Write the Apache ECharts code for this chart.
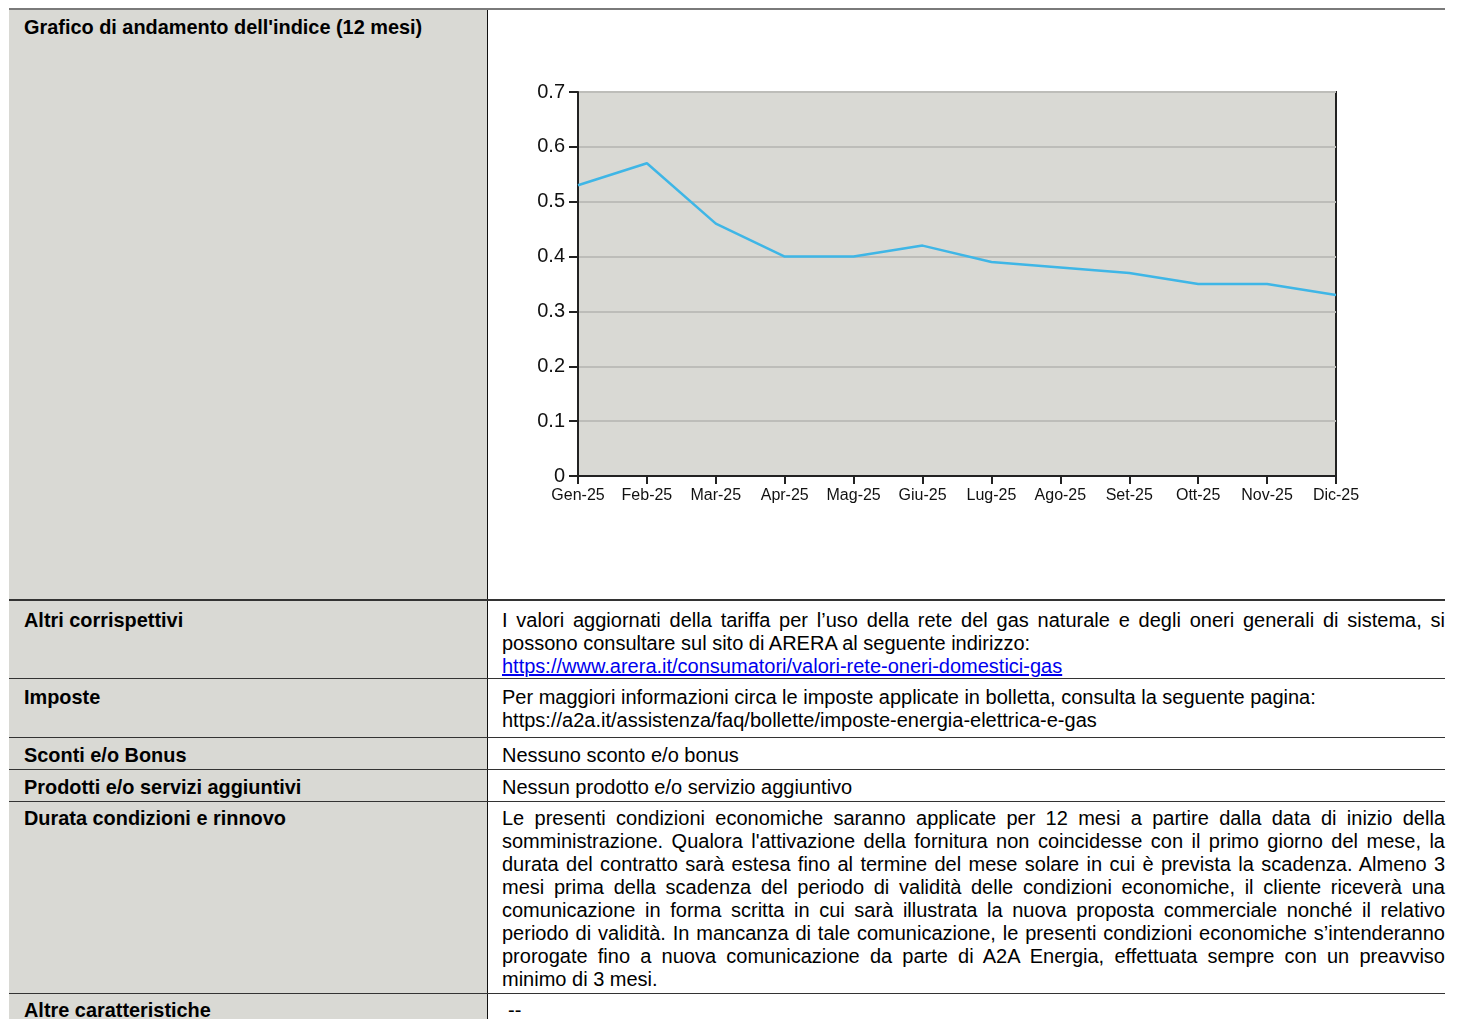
<!DOCTYPE html>
<html>
<head>
<meta charset="utf-8">
<script src="https://cdn.jsdelivr.net/npm/echarts@6/dist/echarts.min.js"></script>
<style>
html,body{margin:0;padding:0;background:#fff;}
body{width:1461px;height:1019px;position:relative;overflow:hidden;font-family:"Liberation Sans",Arial,sans-serif;color:#000;}
.hl{position:absolute;left:9px;width:1436px;background:#333;}
.lc{position:absolute;left:9px;width:478px;background:#d9d9d4;}
.vl{position:absolute;left:487px;width:1px;background:#111;}
.lab{position:absolute;left:24px;font-weight:bold;font-size:19.9px;line-height:23px;}
.txt{position:absolute;left:502px;width:943px;font-size:20px;line-height:23px;text-align:justify;}
.jl{display:block;text-align:justify;text-align-last:justify;}
a{color:#0000ee;text-decoration:underline;}
#chart{position:absolute;left:488px;top:10px;width:957px;height:589px;}
</style>
</head>
<body>
<div class="lc" style="top:10px;height:1009px;"></div>
<div class="vl" style="top:10px;height:1009px;"></div>
<div class="hl" style="top:8px;height:2px;background:#7a7a7a;"></div>
<div class="hl" style="top:599px;height:2px;"></div>
<div class="hl" style="top:678px;height:1px;"></div>
<div class="hl" style="top:737px;height:1px;"></div>
<div class="hl" style="top:769px;height:1px;"></div>
<div class="hl" style="top:801px;height:1px;"></div>
<div class="hl" style="top:993px;height:1px;"></div>

<div class="lab" style="top:16px;">Grafico di andamento dell'indice (12 mesi)</div>
<div id="chart"></div>

<div class="lab" style="top:609px;">Altri corrispettivi</div>
<div class="txt" style="top:609px;">I valori aggiornati della tariffa per l’uso della rete del gas naturale e degli oneri generali di sistema, si possono consultare sul sito di ARERA al seguente indirizzo:<br><a>https://www.arera.it/consumatori/valori-rete-oneri-domestici-gas</a></div>

<div class="lab" style="top:686px;">Imposte</div>
<div class="txt" style="top:686px;text-align:left;">Per maggiori informazioni circa le imposte applicate in bolletta, consulta la seguente pagina:<br>https://a2a.it/assistenza/faq/bollette/imposte-energia-elettrica-e-gas</div>

<div class="lab" style="top:744px;">Sconti e/o Bonus</div>
<div class="txt" style="top:744px;">Nessuno sconto e/o bonus</div>

<div class="lab" style="top:776px;">Prodotti e/o servizi aggiuntivi</div>
<div class="txt" style="top:776px;">Nessun prodotto e/o servizio aggiuntivo</div>

<div class="lab" style="top:807px;">Durata condizioni e rinnovo</div>
<div class="txt" style="top:807px;"><span class="jl">Le presenti condizioni economiche saranno applicate per 12 mesi a partire dalla data di inizio della somministrazione. Qualora l'attivazione della fornitura non coincidesse con il primo giorno del mese, la durata del contratto sarà estesa fino al termine del mese solare in cui è prevista la scadenza. Almeno 3 mesi prima della scadenza del periodo di validità delle condizioni economiche, il cliente riceverà una comunicazione in forma scritta in cui sarà illustrata la nuova proposta commerciale nonché il relativo periodo di validità. In mancanza di tale comunicazione, le presenti condizioni economiche s’intenderanno prorogate fino a nuova comunicazione da parte di A2A Energia, effettuata sempre con un preavviso</span>minimo di 3 mesi.</div>

<div class="lab" style="top:999px;">Altre caratteristiche</div>
<div class="txt" style="top:999px;left:508px;">--</div>

<script>
var months = ["Gen-25","Feb-25","Mar-25","Apr-25","Mag-25","Giu-25","Lug-25","Ago-25","Set-25","Ott-25","Nov-25","Dic-25"];
var indexValues = [0.53, 0.57, 0.46, 0.40, 0.40, 0.42, 0.39, 0.38, 0.37, 0.35, 0.35, 0.33];
var yMin = 0, yMax = 0.7, yStep = 0.1;

var chart = echarts.init(document.getElementById('chart'), null, {renderer:'canvas'});
chart.setOption({
  animation:false,
  grid:{left:90, top:82, width:758, height:384, show:true, backgroundColor:'#d9d9d4', borderColor:'#222', borderWidth:2},
  xAxis:{
    type:'category', data:months, boundaryGap:false,
    axisLine:{show:true, lineStyle:{color:'#222', width:2}},
    axisTick:{show:true, length:8, alignWithLabel:true, lineStyle:{color:'#222', width:2}},
    axisLabel:{interval:0, color:'#111', fontSize:16, margin:12, fontFamily:'Liberation Sans'},
    splitLine:{show:false}
  },
  yAxis:{
    type:'value', min:yMin, max:yMax, interval:yStep,
    axisLine:{show:true, lineStyle:{color:'#222', width:2}},
    axisTick:{show:true, length:9, lineStyle:{color:'#222', width:2}},
    axisLabel:{color:'#111', fontSize:20, margin:13, fontFamily:'Liberation Sans'},
    splitLine:{show:true, lineStyle:{color:'#bdbdb9', width:2}}
  },
  series:[{
    type:'line', data:indexValues, symbol:'none',
    lineStyle:{color:'#3fb6e6', width:2.5}
  }]
});
</script>
</body>
</html>
